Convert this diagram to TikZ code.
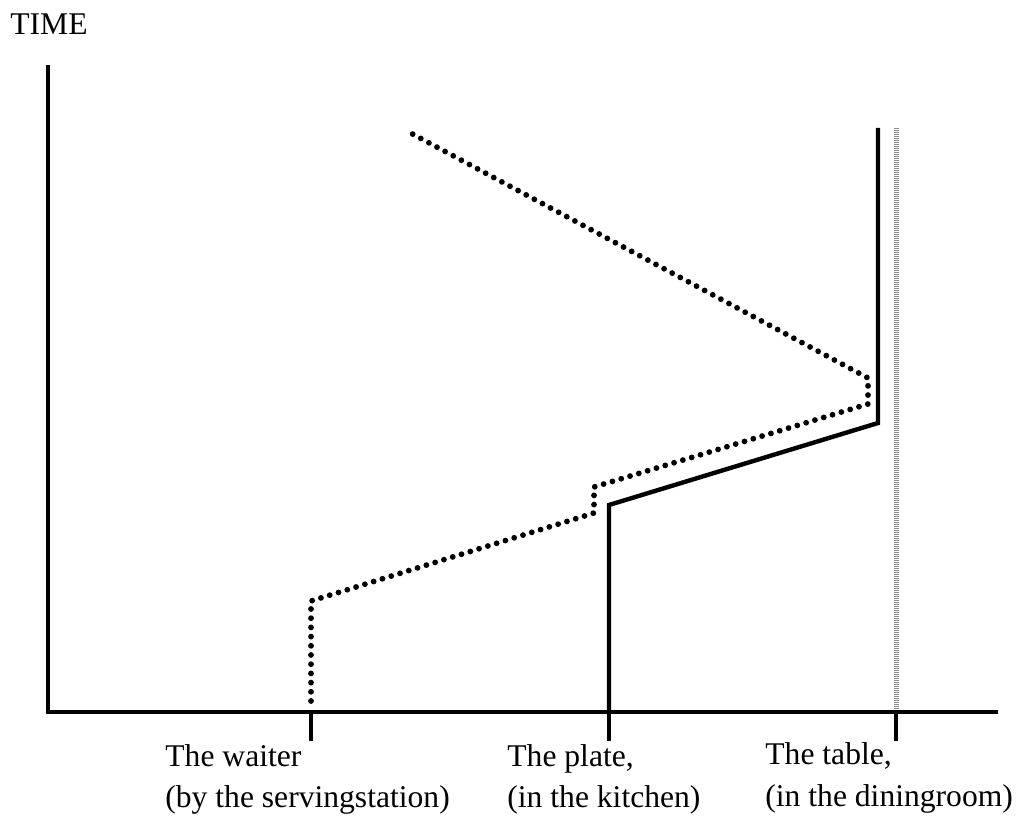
\documentclass[tikz,border=0pt]{standalone}
\usepackage{fontspec}
\setmainfont{Liberation Serif}
\begin{document}
\begin{tikzpicture}[x=0.5pt,y=-0.5pt,
  axis/.style={line width=2.4pt,line cap=butt},
  solidpath/.style={line width=2.2pt,line join=miter},
  dotpath/.style={line width=2.9pt,line cap=round,dash pattern=on 0pt off 4.6pt},
  grayline/.style={line width=2.5pt,black!45,dash pattern=on 0.5pt off 0.5pt},
  lbl/.style={anchor=base west,inner sep=0pt,font=\fontsize{15.8}{19}\selectfont}]
\useasboundingbox (0,0) rectangle (1020,822);
% axes
\coordinate (ytop) at (48,65);
\coordinate (origin) at (48,712);
\coordinate (xend) at (998,712);
\draw[axis] (ytop) -- (origin) -- (xend);
% ticks
\coordinate (t1) at (311,712); \coordinate (t1b) at (311,741);
\coordinate (t2) at (609,712); \coordinate (t2b) at (609,741);
\coordinate (t3) at (896,712); \coordinate (t3b) at (896,741);
\draw[axis] (t1) -- (t1b);
\draw[axis] (t2) -- (t2b);
\draw[axis] (t3) -- (t3b);
% gray line of the table
\coordinate (gtop) at (896,128);
\coordinate (gbot) at (896,709);
\draw[grayline] (gtop) -- (gbot);
% solid path (plate)
\coordinate (s1) at (609,711);
\coordinate (s2) at (609,505);
\coordinate (s3) at (878,423);
\coordinate (s4) at (878,128);
\draw[solidpath] (s1) -- (s2) -- (s3) -- (s4);
% dotted path (waiter)
\coordinate (d1) at (311,701);
\coordinate (d2) at (311,601);
\coordinate (d3) at (594,513);
\coordinate (d4) at (594,487);
\coordinate (d5) at (868,404);
\coordinate (d6) at (868,378);
\coordinate (d7) at (405,130);
\draw[dotpath] (d1) -- (d2) -- (d3) -- (d4) -- (d5) -- (d6) -- (d7);
% labels
\node[lbl] (time) at (10,35) {TIME};
\node[lbl] (w1) at (165,766) {The waiter};
\node[lbl] (w2) at (165,807) {(by the servingstation)};
\node[lbl] (p1) at (507,766) {The plate,};
\node[lbl] (p2) at (507,807) {(in the kitchen)};
\node[lbl] (tb1) at (765,764) {The table,};
\node[lbl] (tb2) at (765,806) {(in the diningroom)};
\end{tikzpicture}
\end{document}
